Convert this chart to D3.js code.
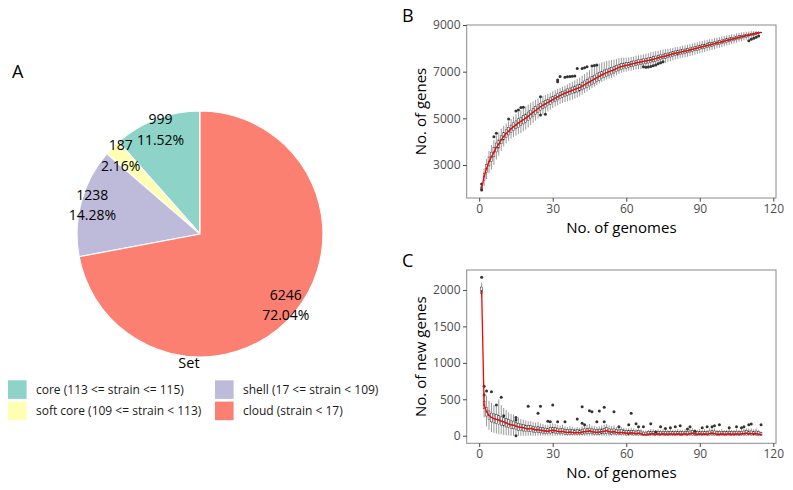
<!DOCTYPE html>
<html><head><meta charset="utf-8">
<script src="https://cdn.jsdelivr.net/npm/d3@7"></script>
<style>body{margin:0;background:#fff}svg{display:block}text{font-family:"Open Sans",sans-serif}</style>
</head><body><svg id="c" width="793" height="490"></svg>
<script>
// ---------- Panel A data ----------
const setNames = ["core","soft core","shell","cloud"];
const setLegend = ["core (113 <= strain <= 115)","soft core (109 <= strain < 113)","shell (17 <= strain < 109)","cloud (strain < 17)"];
const setCounts = [999,187,1238,6246];
const setColors = ["#8DD3C7","#FFFFB3","#BEBADA","#FB8072"];

// ---------- Panel B/C categories ----------
const genomes = d3.range(1,116);
const xTicks = [0,30,60,90,120];
const yTicksB = [3000,5000,7000,9000];
const yTicksC = [0,500,1000,1500,2000];

// ---------- Panel B: pan-genome size ----------
const medB = [2000,2500,2850,3150,3350,3550,3750,3900,4080,4230,
4350,4450,4550,4640,4720,4800,4870,4940,5010,5090,
5180,5260,5340,5420,5500,5560,5620,5680,5740,5800,
5860,5920,5980,6030,6080,6120,6160,6200,6240,6280,
6320,6380,6440,6500,6560,6620,6680,6740,6800,6860,
6910,6960,7000,7040,7080,7130,7180,7220,7250,7270,
7290,7320,7350,7380,7400,7420,7440,7460,7480,7500,
7530,7560,7590,7620,7650,7670,7700,7730,7760,7790,
7810,7830,7860,7880,7900,7930,7960,7990,8010,8040,
8070,8090,8120,8150,8170,8200,8230,8250,8280,8310,
8340,8360,8390,8410,8440,8470,8490,8520,8540,8560,
8590,8610,8640,8660,8680];
const whiskUpB = [150,350,400,450,500,520,520,500,480,450,
430,420,420,430,450,470,480,500,500,500,
480,460,450,430,420,400,380,370,360,360,
350,340,330,320,320,330,350,370,390,400,
420,440,460,480,500,520,540,550,550,540,
520,500,480,460,440,420,400,380,350,330,
320,310,300,300,300,300,300,310,310,320,
320,320,310,300,300,290,280,270,260,260,
250,250,250,250,250,250,250,250,250,250,
250,250,240,240,240,240,230,230,230,220,
220,210,210,200,200,190,190,180,170,160,
150,130,110,80,20];
const whiskDnB = [120,400,450,500,550,550,520,500,470,440,
420,410,420,440,460,480,500,500,490,480,
470,450,440,420,410,400,390,380,370,360,
360,360,360,370,380,390,400,400,400,390,
380,370,360,350,340,330,320,310,300,300,
300,300,300,300,300,290,280,270,260,260,
260,270,280,290,300,300,300,300,300,300,
300,300,300,300,290,290,280,280,270,270,
260,260,260,260,260,260,260,260,260,250,
250,250,240,240,240,240,230,230,230,220,
220,210,210,200,200,190,190,180,170,160,
150,130,110,80,20];
const boxHalfB = [60,150,170,190,200,200,190,180,170,160,
160,160,160,170,170,180,180,180,180,180,
170,170,160,160,150,150,140,140,140,130,
130,130,130,130,130,140,140,140,150,150,
150,160,160,170,170,170,170,170,170,160,
160,150,150,140,140,130,130,120,120,120,
110,110,110,110,110,110,110,110,110,110,
110,110,110,100,100,100,100,100,100,100,
100,100,100,90,90,90,90,90,90,90,
90,90,90,90,80,80,80,80,80,80,
80,80,70,70,70,70,70,60,60,60,
50,50,40,30,10];
const outB = [[1,2190],[1,1930],[6,4210],[7,4360],[12,4970],[15,5310],[16,5360],[17,5460],[18,5470],
[25,5930],[25,5140],[27,5170],[32,6570],[32,6640],[33,6790],[35,6760],[36,6780],[37,6790],[38,6800],[39,6810],
[40,7140],[42,7140],[43,7170],[44,7210],[46,7240],[47,7260],[48,7290],
[67,7210],[68,7190],[69,7200],[70,7220],[71,7250],[72,7290],[73,7340],[74,7380],[75,7430],
[110,8330],[111,8390],[112,8430],[113,8470],[114,8530]];

// ---------- Panel C: new genes ----------
const medC = [1990,420,330,280,250,235,225,215,200,190,
175,160,150,145,130,120,115,110,100,95,
100,90,80,85,75,70,65,60,70,75,
70,60,55,60,50,45,50,45,40,45,
40,50,55,60,65,55,50,45,50,55,
60,70,55,50,55,45,40,45,40,35,
35,40,35,30,35,30,15,15,20,25,
25,20,25,20,25,20,20,25,20,20,
25,20,20,25,20,30,35,25,20,25,
20,25,20,30,35,30,20,20,25,20,
20,25,20,20,25,20,25,30,35,30,
30,25,30,20,15];
const q3C = [2040,470,390,340,310,300,290,280,260,250,
235,220,205,200,180,170,160,155,145,140,
140,130,120,125,115,110,105,100,110,115,
110,100,95,100,90,85,90,85,80,85,
80,90,95,100,105,95,90,85,90,95,
100,110,95,90,95,85,80,85,80,75,
70,75,70,65,70,65,50,50,55,60,
60,55,60,55,60,55,55,60,55,55,
60,55,55,60,55,65,70,60,55,60,
55,60,55,65,70,65,55,55,60,55,
55,60,55,55,60,55,60,65,70,65,
65,60,65,55,45];
const q1C = [1950,370,270,220,190,175,165,155,145,135,
120,110,100,95,85,75,70,65,60,55,
60,50,45,45,40,35,30,30,35,40,
35,30,25,30,20,20,20,15,15,20,
15,20,25,25,30,25,20,15,20,25,
25,30,25,20,25,15,15,15,15,10,
10,15,10,10,10,10,5,5,5,10,
10,5,10,5,10,5,5,10,5,5,
10,5,5,10,5,10,10,5,5,10,
5,10,5,10,10,10,5,5,10,5,
5,10,5,5,10,5,10,10,10,10,
10,10,10,5,5];
const loC = [1900,250,130,80,50,40,30,20,20,10,
5,5,0,0,0,0,0,0,0,0,
0,0,0,0,0,0,0,0,0,0,
0,0,0,0,0,0,0,0,0,0,
0,0,0,0,0,0,0,0,0,0,
0,0,0,0,0,0,0,0,0,0,
0,0,0,0,0,0,0,0,0,0,
0,0,0,0,0,0,0,0,0,0,
0,0,0,0,0,0,0,0,0,0,
0,0,0,0,0,0,0,0,0,0,
0,0,0,0,0,0,0,0,0,0,
0,0,0,0,0];
const hiC = [2100,600,550,480,450,420,400,500,420,380,
350,320,300,290,260,250,230,220,210,200,
200,190,180,190,170,160,150,150,160,170,
160,150,140,150,130,120,130,120,110,120,
110,130,140,150,160,140,130,120,130,140,
150,160,140,130,140,120,110,120,110,100,
100,110,100,90,100,90,70,70,80,90,
90,80,90,80,90,80,80,90,80,80,
90,80,80,90,80,100,100,90,80,90,
80,90,80,100,100,100,80,80,90,80,
80,90,80,80,90,80,90,100,100,100,
100,90,100,80,60];
const outC = [[1,2175],[2,680],[2,560],[3,614],[5,605],[7,421],[9,527],[10,275],[15,250],[15,215],[15,0],
[20,403],[24,307],[25,403],[28,200],[29,190],[30,421],[32,190],[35,190],[40,229],[42,398],[42,170],[43,150],
[45,343],[46,329],[48,190],[49,339],[51,190],[51,390],[55,330],[57,124],[61,151],[62,307],[64,165],[65,124],
[67,124],[70,165],[72,50],[74,124],[76,100],[78,110],[80,124],[82,138],[85,92],[86,124],[88,60],[91,110],
[93,124],[95,124],[96,138],[98,151],[102,110],[105,124],[107,110],[108,124],[110,151],[111,160],[115,151]];

// ================= drawing =================
const svg = d3.select("#c");
const FONT = '"Open Sans", sans-serif';

// ---- Panel A: pie ----
const total = d3.sum(setCounts);
const cx = 200, cy = 234, R = 123;
const pie = d3.pie().sort(null).startAngle(0).endAngle(-2*Math.PI)(setCounts);
const arc = d3.arc().innerRadius(0).outerRadius(R);
const gA = svg.append("g").attr("transform", `translate(${cx},${cy})`);
gA.selectAll("path").data(pie).join("path")
  .attr("d", arc).attr("fill", (d,i)=>setColors[i])
  .attr("stroke", "#fff").attr("stroke-width", 1.2);
const labArc = d3.arc().innerRadius(111.5).outerRadius(111.5);
pie.forEach((d,i)=>{
  const [lx,ly] = labArc.centroid(d);
  const t = gA.append("text").attr("text-anchor","middle").attr("font-size",14).attr("fill","#000");
  t.append("tspan").attr("x",lx).attr("y",ly-10.3).attr("dy","0.35em").text(setCounts[i]);
  t.append("tspan").attr("x",lx).attr("y",ly+10.3).attr("dy","0.35em").text((setCounts[i]/total*100).toFixed(2)+"%");
});
svg.append("text").attr("x",12).attr("y",78).attr("font-size",18).text("A");

// legend
svg.append("text").attr("x",189).attr("y",368).attr("text-anchor","middle").attr("font-size",14.5).text("Set");
const legPos = [[8,380.3],[8,401.6],[215,380.3],[215,401.6]];
setLegend.forEach((lab,i)=>{
  const [lx,ly] = legPos[i];
  svg.append("rect").attr("x",lx).attr("y",ly).attr("width",18.6).attr("height",18.6).attr("fill",setColors[i]);
  svg.append("text").attr("x",lx+28).attr("y",ly+9.3).attr("dy","0.35em").attr("font-size",12).attr("fill","#1a1a1a").text(lab);
});

// ---- Box panel helper ----
function boxPanel(o){
  const g = svg.append("g");
  const x = d3.scaleLinear().domain([-5.1,121.1]).range([o.x0,o.x1]);
  const y = d3.scaleLinear().domain(o.ydom).range([o.y1,o.y0]);
  const bw = 0.75*(x(1)-x(0));
  g.selectAll(".wh").data(genomes).join("line")
    .attr("x1",d=>x(d)).attr("x2",d=>x(d))
    .attr("y1",(d,i)=>y(o.lo[i])).attr("y2",(d,i)=>y(o.hi[i]))
    .attr("stroke","#333").attr("stroke-width",0.5);
  g.selectAll(".bx").data(genomes).join("rect")
    .attr("x",d=>x(d)-bw/2).attr("width",bw)
    .attr("y",(d,i)=>y(o.q3[i])).attr("height",(d,i)=>Math.max(0.3,y(o.q1[i])-y(o.q3[i])))
    .attr("fill","#fff").attr("stroke","#333").attr("stroke-width",0.5);
  g.selectAll(".md").data(genomes).join("line")
    .attr("x1",d=>x(d)-bw/2).attr("x2",d=>x(d)+bw/2)
    .attr("y1",(d,i)=>y(o.med[i])).attr("y2",(d,i)=>y(o.med[i]))
    .attr("stroke","#222").attr("stroke-width",0.8);
  g.selectAll(".ol").data(o.out).join("circle")
    .attr("cx",d=>x(d[0])).attr("cy",d=>y(d[1])).attr("r",1.5).attr("fill","#333");
  g.append("path").datum(genomes)
    .attr("d", d3.line().x(d=>x(d)).y((d,i)=>y(o.med[i])))
    .attr("fill","none").attr("stroke","#ff0000").attr("stroke-width",1.3);
  g.append("rect").attr("x",o.x0).attr("y",o.y0).attr("width",o.x1-o.x0).attr("height",o.y1-o.y0)
    .attr("fill","none").attr("stroke","#8a8a8a").attr("stroke-width",1);
  const ax = g.append("g").attr("transform",`translate(0,${o.y1})`)
    .call(d3.axisBottom(x).tickValues(xTicks).tickFormat(d3.format("d")).tickSize(3.7).tickPadding(2.5));
  const ay = g.append("g").attr("transform",`translate(${o.x0},0)`)
    .call(d3.axisLeft(y).tickValues(o.yticks).tickFormat(d3.format("d")).tickSize(3.7).tickPadding(2.5));
  [ax,ay].forEach(a=>{
    a.select(".domain").remove();
    a.selectAll(".tick line").attr("stroke","#333").attr("stroke-width",0.9);
    a.selectAll(".tick text").attr("fill","#4d4d4d").attr("font-size",12).attr("font-family",FONT);
  });
  g.append("text").attr("x",(o.x0+o.x1)/2).attr("y",o.y1+35).attr("text-anchor","middle")
    .attr("font-size",15).text("No. of genomes");
  g.append("text").attr("transform",`translate(425.5,${(o.y0+o.y1)/2}) rotate(-90)`)
    .attr("text-anchor","middle").attr("font-size",15).text(o.ytitle);
  g.append("text").attr("x",402).attr("y",o.y0-3.5).attr("font-size",18).text(o.letter);
}

boxPanel({x0:466.7,x1:776,y0:25,y1:198,ydom:[1586,9000],yticks:yTicksB,
  med:medB,
  q1:medB.map((m,i)=>m-boxHalfB[i]), q3:medB.map((m,i)=>m+boxHalfB[i]),
  lo:medB.map((m,i)=>m-whiskDnB[i]), hi:medB.map((m,i)=>m+whiskUpB[i]),
  out:outB, ytitle:"No. of genes", letter:"B"});

boxPanel({x0:466.7,x1:776,y0:270,y1:443.3,ydom:[-104,2274],yticks:yTicksC,
  med:medC,q1:q1C,q3:q3C,lo:loC,hi:hiC,out:outC,ytitle:"No. of new genes",letter:"C"});
</script></body></html>
